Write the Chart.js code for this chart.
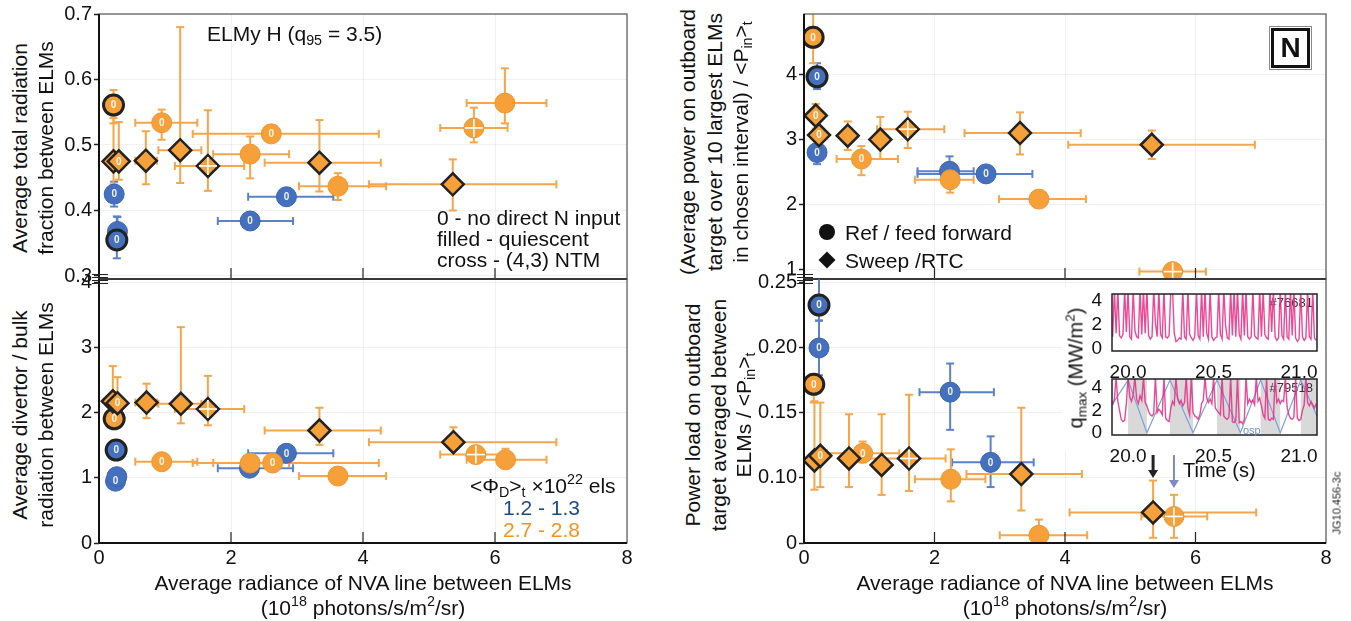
<!DOCTYPE html>
<html>
<head>
<meta charset="utf-8">
<title>NVA radiance vs divertor power</title>
<script src="https://cdn.jsdelivr.net/npm/chart.js@4.4.1/dist/chart.umd.min.js"></script>
<style>
  body { margin: 0; background: #fff; }
  #wrap { position: relative; width: 1351px; height: 621px; overflow: hidden;
          font-family: "Liberation Sans", Arial, Helvetica, sans-serif; color: #111; }
  canvas { position: absolute; }
  .t { position: absolute; white-space: nowrap; font-size: 21px; line-height: 21px; transform: translateY(-50%); }
  .c { transform: translate(-50%, -50%); }
  .r { transform: translate(-50%, -50%) rotate(-90deg); }
  sub, sup { font-size: 0.68em; line-height: 0; }
  sub { vertical-align: -0.3em; }
  sup { vertical-align: 0.6em; }
</style>
</head>
<body>
<div id="wrap">
  <canvas id="tl" width="597" height="295" style="left:50px;top:0px"></canvas>
  <canvas id="bl" width="597" height="356" style="left:50px;top:265px"></canvas>
  <canvas id="tr" width="597" height="295" style="left:750px;top:0px"></canvas>
  <canvas id="br" width="597" height="356" style="left:750px;top:265px"></canvas>
  <div style="position:absolute;left:1062px;top:287px;width:262px;height:165px;background:#fff"></div>
  <canvas id="in1" width="250" height="105" style="left:1075px;top:280px"></canvas>
  <canvas id="in2" width="250" height="105" style="left:1075px;top:365px"></canvas>

  <!-- left panels -->
  <div class="t r" style="left:19px;top:148px">Average total radiation</div>
  <div class="t r" style="left:45px;top:148px">fraction between ELMs</div>
  <div class="t r" style="left:19px;top:415px">Average divertor / bulk</div>
  <div class="t r" style="left:45px;top:415px">radiation between ELMs</div>
  <div class="t" style="left:207px;top:33px">ELMy H (q<sub>95</sub> = 3.5)</div>
  <div class="t" style="left:437px;top:217px">0 - no direct N input</div>
  <div class="t" style="left:437px;top:238px">filled - quiescent</div>
  <div class="t" style="left:437px;top:259px">cross - (4,3) NTM</div>
  <div class="t" style="left:470px;top:485px">&lt;Φ<sub>D</sub>&gt;<sub>t</sub> ×10<sup>22</sup> els</div>
  <div class="t" style="left:503px;top:507px;color:#1d4b8a">1.2 - 1.3</div>
  <div class="t" style="left:503px;top:529px;color:#f29422">2.7 - 2.8</div>
  <div class="t c" style="left:363px;top:582px">Average radiance of NVA line between ELMs</div>
  <div class="t c" style="left:363px;top:607px">(10<sup>18</sup> photons/s/m<sup>2</sup>/sr)</div>

  <!-- right panels -->
  <div class="t r" style="left:687px;top:142px">(Average power on outboard</div>
  <div class="t r" style="left:714px;top:142px">target over 10 largest ELMs</div>
  <div class="t r" style="left:740px;top:142px">in chosen interval) / &lt;P<sub>in</sub>&gt;<sub>t</sub></div>
  <div class="t r" style="left:692px;top:415px">Power load on outboard</div>
  <div class="t r" style="left:718px;top:415px">target averaged between</div>
  <div class="t r" style="left:743px;top:415px">ELMs / &lt;P<sub>in</sub>&gt;<sub>t</sub></div>
  <div style="position:absolute;left:819px;top:224px;width:16px;height:16px;border-radius:50%;background:#111"></div>
  <div class="t" style="left:845px;top:232px">Ref / feed forward</div>
  <div style="position:absolute;left:821px;top:254px;width:12px;height:12px;background:#111;transform:rotate(45deg)"></div>
  <div class="t" style="left:845px;top:260px">Sweep /RTC</div>
  <div style="position:absolute;left:1271px;top:28px;width:33px;height:34px;border:3px solid #111;outline:1px solid #888;outline-offset:1px;font:bold 28px 'Liberation Sans',Arial,sans-serif;text-align:center;line-height:34px">N</div>
  <div class="t r" style="left:1076px;top:368px;font-size:20px">q<sub>max</sub> (MW/m<sup>2</sup>)</div>
  <div class="t" style="left:1183px;top:470px;font-size:20px">Time (s)</div>
  <div class="t" style="left:1243px;top:430px;font-size:11px;color:#6f8fd0">osp</div>
  <div class="t c" style="left:1065px;top:582px">Average radiance of NVA line between ELMs</div>
  <div class="t c" style="left:1065px;top:607px">(10<sup>18</sup> photons/s/m<sup>2</sup>/sr)</div>
  <div class="t r" style="left:1337px;top:503px;font-size:11px;color:#222">JG10.456-3c</div>
</div>

<script>
// ---- top left: total radiation fraction between ELMs ----
const tlX   = [0.22, 0.22, 0.30, 0.95, 0.71, 1.23, 1.65, 2.29, 2.61, 3.34, 3.62, 5.36, 5.68, 6.15, 0.23, 0.28, 0.27, 2.29, 2.84];
const tlY   = [0.561, 0.475, 0.475, 0.534, 0.476, 0.492, 0.468, 0.486, 0.517, 0.473, 0.437, 0.440, 0.526, 0.564, 0.425, 0.368, 0.355, 0.384, 0.421];
const tlXlo = [null, null, null, 0.55, 0.55, 0.90, 1.15, 1.73, 1.42, 2.51, 3.03, 4.09, 5.17, 5.57, null, null, null, 1.80, 2.26];
const tlXhi = [null, null, null, 1.49, 0.88, 1.55, 2.20, 2.88, 4.24, 4.27, 4.35, 6.93, 6.19, 6.78, null, null, null, 2.94, 3.55];
const tlYlo = [0.533, 0.440, 0.447, 0.508, 0.440, 0.442, 0.430, 0.449, 0.505, 0.429, 0.416, 0.400, 0.504, 0.533, 0.406, 0.350, 0.327, null, null];
const tlYhi = [0.584, 0.541, 0.535, 0.554, 0.521, 0.680, 0.553, 0.513, 0.530, 0.538, 0.457, 0.478, 0.557, 0.617, 0.444, 0.390, 0.391, null, null];
const tlDens = ['hi','hi','hi','hi','hi','hi','hi','hi','hi','hi','hi','hi','hi','hi','lo','lo','lo','lo','lo'];
const tlCtrl = ['ref','sweep','sweep','ref','sweep','sweep','sweep','ref','ref','sweep','ref','sweep','ref','ref','ref','ref','ref','ref','ref'];
const tlMark = ['0','q','0','0','q','q','x','q','0','q','q','q','x','q','0','q','0','0','0'];
const tlRing = [0, 16];

// ---- bottom left: divertor / bulk radiation ----
const blX   = [0.21, 0.28, 0.23, 0.26, 0.25, 0.27, 0.72, 1.24, 1.65, 0.95, 2.28, 2.29, 2.63, 2.84, 3.34, 3.62, 5.37, 5.71, 6.16];
const blY   = [2.18, 2.15, 1.91, 1.43, 0.95, 1.02, 2.16, 2.14, 2.06, 1.25, 1.15, 1.23, 1.23, 1.38, 1.73, 1.03, 1.55, 1.36, 1.28];
const blXlo = [null, null, null, null, null, null, 0.55, 0.90, 1.15, 0.55, 1.80, 1.73, 1.42, 2.26, 2.51, 3.03, 4.09, 5.17, 5.57];
const blXhi = [null, null, null, null, null, null, 0.88, 1.55, 2.20, 1.49, 2.94, 2.88, 4.24, 3.55, 4.27, 4.35, 6.93, 6.19, 6.78];
const blYlo = [1.90, 1.95, 1.80, 1.30, 0.85, null, 1.92, 1.84, 1.81, null, null, null, null, null, 1.51, null, 1.46, null, 1.18];
const blYhi = [2.72, 2.55, 2.05, 1.52, 1.08, null, 2.45, 3.32, 2.57, null, null, null, null, null, 2.08, null, 1.78, null, 1.45];
const blDens = ['hi','hi','hi','lo','lo','lo','hi','hi','hi','hi','lo','hi','hi','lo','hi','hi','hi','hi','hi'];
const blCtrl = ['sweep','sweep','ref','ref','ref','ref','sweep','sweep','sweep','ref','ref','ref','ref','ref','sweep','ref','sweep','ref','ref'];
const blMark = ['q','0','0','0','0','q','q','q','x','0','0','q','0','0','q','q','q','x','q'];
const blRing = [2, 3];

// ---- top right: power of 10 largest ELMs / <Pin> ----
const trX   = [0.14, 0.20, 0.18, 0.23, 0.20, 0.67, 1.17, 0.88, 1.59, 2.23, 2.24, 2.79, 3.60, 3.31, 5.33, 5.65];
const trY   = [4.58, 3.97, 3.37, 3.07, 2.80, 3.06, 3.00, 2.70, 3.16, 2.51, 2.38, 2.47, 2.08, 3.10, 2.92, 0.96];
const trXlo = [null, null, null, null, null, null, null, 0.50, 1.12, 1.74, 1.70, 1.74, 2.99, 2.46, 4.05, 5.14];
const trXhi = [null, null, null, null, null, null, null, 1.44, 2.15, 2.60, 2.60, 3.50, 4.32, 4.24, 6.91, 6.16];
const trYlo = [4.18, 3.78, 3.17, 2.90, 2.62, 2.84, 2.70, 2.45, 2.87, 2.27, 2.18, null, null, 2.77, 2.70, null];
const trYhi = [4.96, 4.18, 3.55, 3.30, 2.98, 3.28, 3.35, 2.90, 3.43, 2.74, 2.58, null, null, 3.42, 3.14, null];
const trDens = ['hi','lo','hi','hi','lo','hi','hi','hi','hi','lo','hi','lo','hi','hi','hi','hi'];
const trCtrl = ['ref','ref','sweep','sweep','ref','sweep','sweep','ref','sweep','ref','ref','ref','ref','sweep','sweep','ref'];
const trMark = ['0','0','0','0','0','q','q','0','x','q','q','0','q','q','q','x'];
const trRing = [0, 1];

// ---- bottom right: inter-ELM power load / <Pin> ----
const brX   = [0.23, 0.23, 0.15, 0.16, 0.25, 0.69, 0.90, 1.19, 1.61, 2.25, 2.24, 2.86, 3.33, 3.60, 5.35, 5.67];
const brY   = [0.233, 0.200, 0.172, 0.1135, 0.117, 0.115, 0.119, 0.110, 0.115, 0.099, 0.166, 0.112, 0.103, 0.056, 0.0735, 0.0704];
const brXlo = [null, null, null, null, null, null, 0.35, null, 0.75, 1.70, 1.77, 2.27, 2.49, 3.00, 4.07, 5.17];
const brXhi = [null, null, null, null, null, null, 1.46, null, 2.17, 2.78, 2.91, 3.52, 4.26, 4.34, 6.93, 6.18];
const brYlo = [0.221, 0.179, 0.158, 0.091, 0.093, 0.093, 0.112, 0.087, 0.090, 0.082, 0.137, 0.093, 0.075, 0.052, 0.054, 0.054];
const brYhi = [0.255, 0.221, 0.180, 0.159, 0.158, 0.149, 0.128, 0.149, 0.164, 0.122, 0.188, 0.132, 0.154, 0.068, 0.098, 0.087];
const brDens = ['lo','lo','hi','hi','hi','hi','hi','hi','hi','hi','lo','lo','hi','hi','hi','hi'];
const brCtrl = ['ref','ref','ref','sweep','sweep','sweep','ref','sweep','sweep','ref','ref','ref','sweep','ref','sweep','ref'];
const brMark = ['0','0','0','q','0','q','0','q','x','q','0','0','q','q','q','x'];
const brRing = [0, 2];
const brArrowX = [5.35, 5.67];   // shots shown in the insets

// ---- insets: q_max time traces, sampled every 10 ms from 19.91 s ----
const insetT0 = 19.91, insetDt = 0.01;
const in1Q = [
  1.0, 5.0, 1.3, 5.0, 1.1, 0.9, 1.2, 5.0, 1.4, 5.0,
  1.0, 0.8, 5.0, 1.5, 1.0, 0.9, 5.0, 1.2, 5.0, 1.3,
  5.0, 1.1, 0.8, 1.0, 5.0, 2.2, 1.0, 5.0, 1.2, 0.9,
  5.0, 1.0, 0.9, 1.1, 5.0, 5.0, 1.3, 0.6, 0.7, 0.9,
  0.8, 5.0, 1.0, 0.8, 5.0, 1.2, 0.9, 0.7, 1.0, 5.0,
  1.1, 0.8, 5.0, 1.0, 5.0, 1.3, 0.8, 5.0, 1.0, 0.7,
  0.9, 1.0, 5.0, 1.2, 0.8, 5.0, 2.0, 0.9, 0.8, 5.0,
  1.1, 5.0, 1.0, 5.0, 1.2, 0.8, 5.0, 1.1, 5.0, 1.0,
  0.8, 1.0, 5.0, 1.1, 0.9, 0.8, 5.0, 1.0, 5.0, 1.2,
  0.9, 0.8, 5.0, 1.4, 5.0, 1.0, 0.7, 0.9, 5.0, 1.1,
  0.8, 5.0, 1.0, 0.8, 5.0, 1.1, 5.0, 0.9, 0.6, 0.8,
  5.0, 1.0, 0.7, 0.9, 5.0, 1.0, 0.8, 5.0, 0.9, 0.7
];
const in2Q = [
  2.5, 3.0, 5.0, 2.8, 2.0, 1.2, 1.0, 1.1, 2.6, 5.0,
  3.2, 2.8, 3.4, 5.0, 3.0, 2.6, 3.3, 2.9, 5.0, 2.7,
  2.4, 1.9, 1.6, 1.5, 1.7, 5.0, 1.8, 2.1, 1.9, 1.6,
  5.0, 1.3, 1.1, 1.0, 2.2, 2.8, 2.5, 5.0, 3.0, 2.6,
  2.9, 2.4, 2.7, 5.0, 2.2, 1.6, 5.0, 1.8, 1.5, 1.4,
  1.2, 1.6, 2.6, 2.9, 5.0, 3.1, 2.7, 3.0, 2.6, 5.0,
  2.2, 2.0, 1.8, 1.6, 5.0, 1.5, 1.3, 1.2, 1.4, 5.0,
  1.0, 0.9, 1.1, 5.0, 0.9, 1.0, 0.8, 1.2, 5.0, 2.6,
  3.0, 2.7, 2.9, 2.5, 5.0, 2.8, 3.1, 2.4, 1.6, 1.3,
  5.0, 1.2, 1.1, 1.3, 1.2, 5.0, 2.7, 3.0, 2.6, 2.9,
  2.8, 5.0, 2.3, 1.6, 1.3, 1.2, 1.4, 5.0, 1.3, 1.1,
  1.2, 2.0, 2.5, 5.0, 2.7, 2.4, 2.8, 2.5, 2.2, 2.6
];
// strike point sweep (osp) turning points and shaded sweep-down intervals
const ospT = [19.91, 20.00, 20.11, 20.245, 20.38, 20.52, 20.657, 20.775, 20.89, 21.01, 21.105];
const ospV = [2.6, 4.7, 0.0, 4.7, 0.0, 4.7, 0.0, 4.7, 0.0, 4.7, 1.5];
const bandStart = [20.00, 20.245, 20.52, 20.775, 21.01];
const bandEnd   = [20.11, 20.38, 20.657, 20.89, 21.105];

// ---------------------------------------------------------------
Chart.defaults.font.family = '"Liberation Sans", Arial, Helvetica, sans-serif';
Chart.defaults.font.size = 20;
Chart.defaults.color = '#111';

const ORANGE = '#f6a03a', BLUE = '#4470be';

function seg(ctx, x1, y1, x2, y2) {
  ctx.beginPath(); ctx.moveTo(x1, y1); ctx.lineTo(x2, y2); ctx.stroke();
}

function buildSets(X, Y, XLO, XHI, YLO, YHI, DENS, CTRL, MARK, RING) {
  const groups = [
    { dens: 'hi', ctrl: 'sweep', color: ORANGE, err: '#f5a64c' },
    { dens: 'lo', ctrl: 'sweep', color: BLUE,   err: '#5b82c8' },
    { dens: 'hi', ctrl: 'ref',   color: ORANGE, err: '#f5a64c' },
    { dens: 'lo', ctrl: 'ref',   color: BLUE,   err: '#5b82c8' }
  ];
  return groups.map(g => {
    const pts = [];
    X.forEach((x, i) => {
      if (DENS[i] !== g.dens || CTRL[i] !== g.ctrl) return;
      pts.push({ x: x, y: Y[i], xlo: XLO[i], xhi: XHI[i], ylo: YLO[i], yhi: YHI[i],
                 mark: MARK[i], ring: RING.includes(i) });
    });
    const sweep = g.ctrl === 'sweep';
    return {
      data: pts,
      errColor: g.err,
      pointStyle: sweep ? 'rectRot' : 'circle',
      pointRadius: sweep ? 11 : 10,
      backgroundColor: g.color,
      borderColor: pts.map(p => sweep || p.ring ? '#222' : (g.dens === 'hi' ? '#ee9530' : '#3a64b0')),
      borderWidth: pts.map(p => sweep ? 2.5 : (p.ring ? 3 : 1))
    };
  });
}

const deco = {
  id: 'deco',
  beforeDatasetsDraw(chart) {
    const { ctx, chartArea: a, scales: { x, y } } = chart;
    ctx.save();
    ctx.beginPath(); ctx.rect(a.left, a.top, a.width, a.height); ctx.clip();
    ctx.lineWidth = 2;
    const metas = chart.getSortedVisibleDatasetMetas();
    for (let k = metas.length - 1; k >= 0; k--) {
      const ds = chart.data.datasets[metas[k].index];
      ctx.strokeStyle = ds.errColor;
      ds.data.forEach(p => {
        const px = x.getPixelForValue(p.x), py = y.getPixelForValue(p.y);
        if (p.xlo != null) {
          const l = x.getPixelForValue(p.xlo), r = x.getPixelForValue(p.xhi);
          seg(ctx, l, py, r, py); seg(ctx, l, py - 4, l, py + 4); seg(ctx, r, py - 4, r, py + 4);
        }
        if (p.ylo != null) {
          const b = y.getPixelForValue(p.ylo), t = y.getPixelForValue(p.yhi);
          seg(ctx, px, b, px, t); seg(ctx, px - 4, b, px + 4, b); seg(ctx, px - 4, t, px + 4, t);
        }
      });
    }
    ctx.restore();
  },
  afterDatasetDraw(chart, args) {
    const ctx = chart.ctx;
    const ds = chart.data.datasets[args.index];
    ctx.save();
    args.meta.data.forEach((el, j) => {
      const p = ds.data[j];
      if (p.mark === '0') {
        ctx.fillStyle = 'rgba(255,255,255,0.92)';
        ctx.font = 'bold 10px "Liberation Sans", Arial, sans-serif';
        ctx.textAlign = 'center'; ctx.textBaseline = 'middle';
        ctx.fillText('0', el.x, el.y + 0.5);
      } else if (p.mark === 'x') {
        ctx.strokeStyle = '#fff'; ctx.lineWidth = 1.6;
        seg(ctx, el.x - 9, el.y, el.x + 9, el.y);
        seg(ctx, el.x, el.y - 9, el.x, el.y + 9);
      }
    });
    ctx.restore();
  },
  afterDraw(chart, args, opts) {
    const { ctx, chartArea: a, scales: { x } } = chart;
    ctx.save();
    ctx.strokeStyle = '#555'; ctx.lineWidth = 1.2;
    ctx.strokeRect(a.left, a.top, a.width, a.height);
    ctx.strokeStyle = '#111'; ctx.lineWidth = 2;
    seg(ctx, a.left, a.top, a.left, a.bottom);
    seg(ctx, a.left, a.bottom, a.right, a.bottom);
    // inward x ticks
    ctx.lineWidth = 1.2; ctx.strokeStyle = '#222';
    x.ticks.forEach(t => {
      if (t.value > x.min && t.value < x.max) {
        const px = x.getPixelForValue(t.value);
        seg(ctx, px, a.bottom, px, a.bottom - 11);
      }
    });
    // axis break marks
    ctx.lineWidth = 1;
    const by = opts.breakAt === 'bottom' ? a.bottom - 3 : a.top + 3;
    seg(ctx, a.left - 7, by - 1.5, a.left + 9, by - 1.5);
    seg(ctx, a.left - 7, by + 1.5, a.left + 9, by + 1.5);
    // arrows pointing at the shots shown in the insets
    if (opts.arrows) {
      opts.arrows.forEach((v, k) => {
        const px = x.getPixelForValue(v);
        const y0 = a.top + 176, y1 = a.top + (k === 0 ? 199 : 209);
        ctx.strokeStyle = ctx.fillStyle = k === 0 ? '#222' : '#8088c4';
        ctx.lineWidth = k === 0 ? 3 : 2;
        seg(ctx, px, y0, px, y1 - 6);
        ctx.beginPath(); ctx.moveTo(px - 5, y1 - 8); ctx.lineTo(px + 5, y1 - 8); ctx.lineTo(px, y1); ctx.closePath(); ctx.fill();
      });
    }
    ctx.restore();
  }
};

function scatterPanel(id, sets, o) {
  new Chart(document.getElementById(id), {
    type: 'scatter',
    data: { datasets: sets },
    options: {
      responsive: false, animation: false, events: [],
      layout: { padding: o.pad },
      plugins: { legend: { display: false }, tooltip: { enabled: false },
                 deco: { breakAt: o.breakAt, arrows: o.arrows } },
      scales: {
        x: {
          type: 'linear', min: 0, max: 8,
          ticks: { stepSize: 2, includeBounds: false, display: o.xLabels, padding: 3, color: '#111' },
          grid: { color: 'rgba(0,0,0,0.055)', drawTicks: false },
          border: { display: false },
          afterFit: s => { s.height = o.xLabels ? 30 : 0; }
        },
        y: {
          type: 'linear', min: o.ymin, max: o.ymax,
          ticks: { stepSize: o.ystep, includeBounds: false, autoSkip: false, callback: o.fmt, padding: 2, color: '#111' },
          grid: { color: 'rgba(0,0,0,0.055)', tickColor: '#222', tickLength: 5, tickWidth: 1.5 },
          border: { display: false },
          afterFit: s => { s.width = o.yw; }
        }
      }
    },
    plugins: [deco]
  });
}

scatterPanel('tl', buildSets(tlX, tlY, tlXlo, tlXhi, tlYlo, tlYhi, tlDens, tlCtrl, tlMark, tlRing),
  { pad: { top: 14, right: 20, bottom: 16, left: 0 }, yw: 49, xLabels: false, breakAt: 'bottom',
    ymin: 0.2954, ymax: 0.7, ystep: 0.1, fmt: v => v.toFixed(1) });
scatterPanel('bl', buildSets(blX, blY, blXlo, blXhi, blYlo, blYhi, blDens, blCtrl, blMark, blRing),
  { pad: { top: 14, right: 20, bottom: 48, left: 0 }, yw: 49, xLabels: true, breakAt: 'top',
    ymin: 0, ymax: 4.06, ystep: 1, fmt: v => String(v) });
scatterPanel('tr', buildSets(trX, trY, trXlo, trXhi, trYlo, trYhi, trDens, trCtrl, trMark, trRing),
  { pad: { top: 14, right: 21, bottom: 16, left: 0 }, yw: 54, xLabels: false, breakAt: 'bottom',
    ymin: 0.846, ymax: 4.94, ystep: 1, fmt: v => String(v) });
scatterPanel('br', buildSets(brX, brY, brXlo, brXhi, brYlo, brYhi, brDens, brCtrl, brMark, brRing),
  { pad: { top: 14, right: 21, bottom: 48, left: 0 }, yw: 54, xLabels: true, breakAt: 'top', arrows: brArrowX,
    ymin: 0.05, ymax: 0.253, ystep: 0.05, fmt: v => v < 0.06 ? '0' : v.toFixed(2) });

// ---- insets ----
const insetDeco = {
  id: 'insetDeco',
  beforeDatasetsDraw(chart, args, opts) {
    const { ctx, chartArea: a, scales: { x } } = chart;
    ctx.save();
    ctx.fillStyle = '#d9d9d9';
    (opts.start || []).forEach((s, k) => {
      const l = Math.max(a.left, x.getPixelForValue(s));
      const r = Math.min(a.right, x.getPixelForValue(opts.end[k]));
      ctx.fillRect(l, a.top, r - l, a.height);
    });
    ctx.fillStyle = '#333';
    ctx.font = '13px "Liberation Sans", Arial, sans-serif';
    ctx.textAlign = 'right'; ctx.textBaseline = 'middle';
    ctx.fillText(opts.tag, a.right - 4, a.top + 9);
    ctx.restore();
  },
  afterDraw(chart) {
    const { ctx, chartArea: a } = chart;
    ctx.save();
    ctx.strokeStyle = '#222'; ctx.lineWidth = 1.5;
    ctx.strokeRect(a.left, a.top, a.width, a.height);
    ctx.restore();
  }
};

function trace(q) {
  return q.map((v, i) => ({ x: insetT0 + i * insetDt, y: v }));
}

function insetPanel(id, sets, o) {
  new Chart(document.getElementById(id), {
    type: 'scatter',
    data: { datasets: sets },
    options: {
      responsive: false, animation: false, events: [],
      layout: { padding: o.pad },
      plugins: { legend: { display: false }, tooltip: { enabled: false },
                 insetDeco: { tag: o.tag, start: o.start, end: o.end } },
      scales: {
        x: {
          type: 'linear', min: 19.906, max: 21.105,
          ticks: { stepSize: 0.5, includeBounds: false, autoSkip: false, maxRotation: 0,
                   callback: v => v.toFixed(1), font: { size: 19 }, padding: 2, color: '#111' },
          grid: { display: false }, border: { display: false },
          afterFit: s => { s.height = 30; }
        },
        y: {
          type: 'linear', min: -0.2, max: o.ymax,
          ticks: { stepSize: 2, includeBounds: false, font: { size: 19 }, padding: 2, color: '#111' },
          grid: { display: false }, border: { display: false },
          afterFit: s => { s.width = 37; }
        }
      }
    },
    plugins: [insetDeco]
  });
}

const pinkLine = { showLine: true, pointRadius: 0, borderColor: 'rgba(232,40,130,0.85)', borderWidth: 1.4, tension: 0 };

insetPanel('in1', [Object.assign({ data: trace(in1Q) }, pinkLine)],
  { pad: { top: 14, right: 8, bottom: 4, left: 0 }, ymax: 4.6, tag: '#76681' });
insetPanel('in2', [
    Object.assign({ data: trace(in2Q) }, pinkLine),
    { data: ospT.map((t, i) => ({ x: t, y: ospV[i] })), showLine: true, pointRadius: 0,
      borderColor: '#7fa0dc', borderWidth: 1.2 }
  ],
  { pad: { top: 14, right: 8, bottom: 5, left: 0 }, ymax: 4.8, tag: '#79518', start: bandStart, end: bandEnd });
</script>
</body>
</html>
